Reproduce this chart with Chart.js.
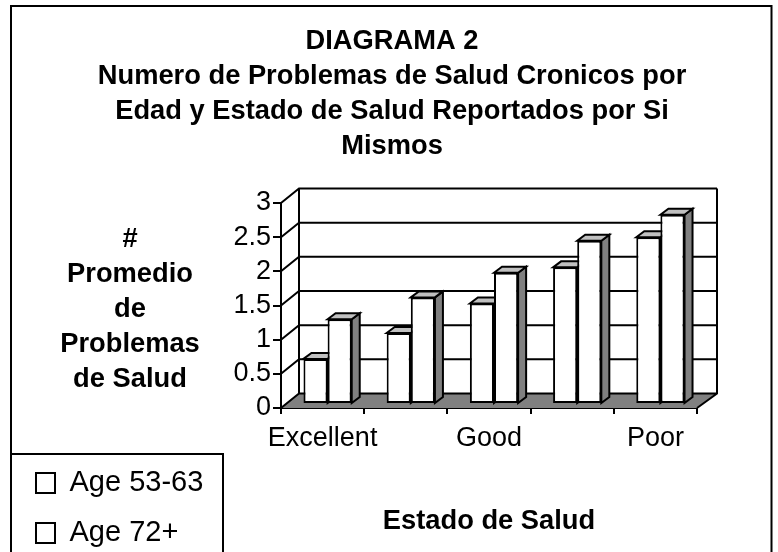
<!DOCTYPE html>
<html>
<head>
<meta charset="utf-8">
<style>html,body{margin:0;padding:0;background:#fff}canvas{display:block}</style>
<script src="https://cdn.jsdelivr.net/npm/chart.js@4"></script>
</head>
<body>
<canvas id="c" width="778" height="552"></canvas>
<script>
const categories = ['Excellent', '', 'Good', '', 'Poor'];
const age5363 = [0.66, 1.04, 1.47, 2.0, 2.44];
const age72 = [1.24, 1.56, 1.92, 2.39, 2.77];
const seriesNames = ['Age 53-63', 'Age 72+'];
const titleLines = ['DIAGRAMA 2', 'Numero de Problemas de Salud Cronicos por', 'Edad y Estado de Salud Reportados por Si', 'Mismos'];
const yTitleLines = ['#', 'Promedio', 'de', 'Problemas', 'de Salud'];
const xTitle = 'Estado de Salud';

const FONT = '"Liberation Sans", Arial, sans-serif';
const TITLE_SIZE = 27.3, TICK_SIZE = 27, LEGEND_SIZE = 29;
const PAD_LEFT = 17;

const threeD = {
  id: 'threeD',
  afterLayout(chart) {
    chart.titleBlock.left = 6;
    chart.titleBlock.right = 778;
    chart.legend.bottom += 16.5;
    chart.legend.left -= 2;
  },
  beforeDraw(chart) {
    const c = chart.ctx;
    c.save();
    c.fillStyle = '#fff';
    c.fillRect(0, 0, chart.width, chart.height);
    c.strokeStyle = '#000';
    c.lineWidth = 2;
    c.beginPath();
    c.moveTo(11, 552); c.lineTo(11, 6); c.lineTo(771.5, 6); c.lineTo(771.5, 552);
    c.moveTo(11, 454); c.lineTo(223, 454); c.lineTo(223, 552);
    c.stroke();
    c.fillStyle = '#000';
    c.font = 'bold ' + TITLE_SIZE + 'px ' + FONT;
    c.textAlign = 'center';
    c.textBaseline = 'middle';
    yTitleLines.forEach((t, i) => c.fillText(t, 130, 239 + i * 35));
    c.restore();
  },
  beforeDatasetsDraw(chart) {
    const c = chart.ctx, a = chart.chartArea, y = chart.scales.y;
    const wx = 18, wxR = 20, wy = 14.5;
    c.save();
    c.strokeStyle = '#000';
    c.lineWidth = 2;
    const y0 = y.getPixelForValue(0);
    c.fillStyle = '#808080';
    c.beginPath();
    c.moveTo(a.left, y0); c.lineTo(a.left + wx, y0 - wy); c.lineTo(a.right + wxR, y0 - wy); c.lineTo(a.right, y0);
    c.closePath(); c.fill();
    c.beginPath();
    y.ticks.forEach(t => {
      const p = y.getPixelForValue(t.value);
      c.moveTo(a.left, p); c.lineTo(a.left + wx, p - wy); c.lineTo(a.right + wxR, p - wy);
    });
    const yt = y.getPixelForValue(y.max) - wy;
    c.moveTo(a.left + wx, yt); c.lineTo(a.left + wx, y0 - wy);
    c.moveTo(a.right + wxR, yt); c.lineTo(a.right + wxR, y0 - wy); c.lineTo(a.right, y0);
    c.stroke();
    c.restore();

    c.save();
    c.translate(5, -4);
    const dx = 8, dy = 6;
    c.lineWidth = 2;
    c.strokeStyle = '#000';
    chart.data.datasets.forEach((d, i) => {
      chart.getDatasetMeta(i).data.forEach(b => {
        const l = b.x - b.width / 2, r = b.x + b.width / 2, t = b.y, base = b.base;
        c.fillStyle = '#808080';
        c.beginPath();
        c.moveTo(r, t); c.lineTo(r + dx, t - dy); c.lineTo(r + dx, base - dy); c.lineTo(r, base);
        c.closePath(); c.fill(); c.stroke();
        c.fillStyle = '#c0c0c0';
        c.beginPath();
        c.moveTo(l, t); c.lineTo(l + dx, t - dy); c.lineTo(r + dx, t - dy); c.lineTo(r, t);
        c.closePath(); c.fill(); c.stroke();
      });
    });
  },
  afterDatasetsDraw(chart) {
    chart.ctx.restore();
  }
};

const barStyle = { backgroundColor: '#fff', borderColor: '#000', borderWidth: 2, borderSkipped: false, categoryPercentage: 0.58, barPercentage: 1 };

new Chart(document.getElementById('c'), {
  type: 'bar',
  data: {
    labels: categories,
    datasets: [
      Object.assign({ label: seriesNames[0], data: age5363 }, barStyle),
      Object.assign({ label: seriesNames[1], data: age72 }, barStyle)
    ]
  },
  options: {
    responsive: false,
    animation: false,
    layout: { padding: { left: PAD_LEFT, right: 81, top: 0, bottom: 0 } },
    plugins: {
      tooltip: { enabled: false },
      title: {
        display: true,
        text: titleLines,
        color: '#000',
        font: { family: FONT, size: TITLE_SIZE, weight: 'bold', lineHeight: 35 / TITLE_SIZE },
        padding: { top: 24, bottom: 39 }
      },
      legend: {
        display: true,
        position: 'left',
        align: 'end',
        maxWidth: 200,
        labels: {
          boxWidth: 19, boxHeight: 20, padding: 21, color: '#000',
          font: { family: FONT, size: LEGEND_SIZE }
        }
      }
    },
    scales: {
      x: {
        afterFit(s) { s.height = 144; },
        grid: { drawOnChartArea: false, drawTicks: true, tickLength: 6, color: '#000', lineWidth: 2 },
        border: { color: '#000', width: 2 },
        ticks: { color: '#000', font: { family: FONT, size: TICK_SIZE }, padding: 8, autoSkip: false, maxRotation: 0 },
        title: { display: true, text: xTitle, color: '#000', font: { family: FONT, size: TITLE_SIZE, weight: 'bold' }, padding: { top: 40, bottom: 14 } }
      },
      y: {
        min: 0, max: 3,
        afterFit(s) { s.width = 281 - PAD_LEFT - (s.chart.legend ? s.chart.legend.width : 190); },
        grid: { drawOnChartArea: false, drawTicks: true, tickLength: 8, color: '#000', lineWidth: 2 },
        border: { color: '#000', width: 2 },
        ticks: { color: '#000', stepSize: 0.5, padding: 2, autoSkip: false, font: { family: FONT, size: TICK_SIZE }, callback: v => String(v) }
      }
    }
  },
  plugins: [threeD]
});
</script>
</body>
</html>
